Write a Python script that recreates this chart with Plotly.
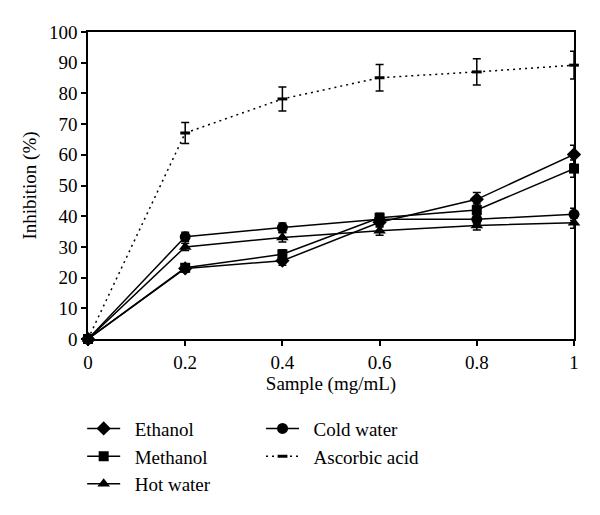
import plotly.graph_objects as go

x = [0, 0.2, 0.4, 0.6, 0.8, 1.0]
ethanol = [0, 23.0, 25.5, 38.0, 45.5, 60.1]
ethanol_err = [0, 1.2, 1.5, 1.5, 2.2, 3.0]
methanol = [0, 23.2, 27.6, 39.5, 42.0, 55.5]
methanol_err = [0, 1.2, 1.5, 1.5, 2.0, 2.8]
hot_water = [0, 30.0, 33.1, 35.3, 37.0, 37.9]
hot_water_err = [0, 1.2, 1.5, 1.5, 1.5, 1.8]
cold_water = [0, 33.3, 36.3, 39.0, 39.0, 40.6]
cold_water_err = [0, 1.5, 1.5, 1.5, 1.5, 2.0]
ascorbic = [0, 67.1, 78.2, 85.1, 87.0, 89.2]
ascorbic_err = [0, 3.4, 3.9, 4.3, 4.3, 4.5]

FONT = "Liberation Serif"
FS = 19
PAD = "\u00a0\u00a0"
fig = go.Figure()

def add(name, y, err, symbol, size, legend, dash="solid", lw=1.5):
    fig.add_trace(go.Scatter(
        x=x, y=y, name=PAD + name, mode="lines+markers",
        line=dict(color="black", width=lw, dash=dash),
        marker=dict(symbol=symbol, size=size, color="black",
                    line=dict(color="black", width=3 if symbol == "line-ew" else 0)),
        error_y=dict(type="data", array=err, visible=True, color="black",
                     thickness=1.5, width=4),
        cliponaxis=False, legend=legend,
    ))

add("Ethanol", ethanol, ethanol_err, "diamond", 11, "legend")
add("Methanol", methanol, methanol_err, "square", 10, "legend")
add("Hot water", hot_water, hot_water_err, "triangle-up", 11, "legend")
add("Cold water", cold_water, cold_water_err, "circle", 11, "legend2")
add("Ascorbic acid", ascorbic, ascorbic_err, "line-ew", 7, "legend2", dash="2px,4px", lw=1.5)

axis_common = dict(showline=True, linecolor="black", linewidth=1.5, mirror=True,
                   ticks="outside", ticklen=5, tickwidth=1.5, tickcolor="black",
                   showgrid=False, zeroline=False,
                   tickfont=dict(family=FONT, size=FS, color="black"))

fig.update_layout(
    width=600, height=515,
    margin=dict(l=80, r=34, t=24, b=184),
    plot_bgcolor="white", paper_bgcolor="white",
    font=dict(family=FONT, size=FS, color="black"),
    xaxis=dict(range=[0, 1], tickvals=[0, 0.2, 0.4, 0.6, 0.8, 1],
               ticktext=["0", "0.2", "0.4", "0.6", "0.8", "1"],
               title=dict(text="Sample (mg/mL)", font=dict(family=FONT, size=FS), standoff=4),
               **axis_common),
    yaxis=dict(range=[0, 100], tickvals=list(range(0, 101, 10)),
               title=dict(text="Inhibition (%)", font=dict(family=FONT, size=FS), standoff=7),
               **axis_common),
    legend=dict(x=-0.012, y=-0.23, xanchor="left", yanchor="top",
                bgcolor="rgba(0,0,0,0)", font=dict(family=FONT, size=FS),
                tracegroupgap=0, itemwidth=33),
    legend2=dict(x=0.356, y=-0.23, xanchor="left", yanchor="top",
                 bgcolor="rgba(0,0,0,0)", font=dict(family=FONT, size=FS),
                 tracegroupgap=0, itemwidth=33),
    showlegend=True,
)

fig.write_html("out.html")
